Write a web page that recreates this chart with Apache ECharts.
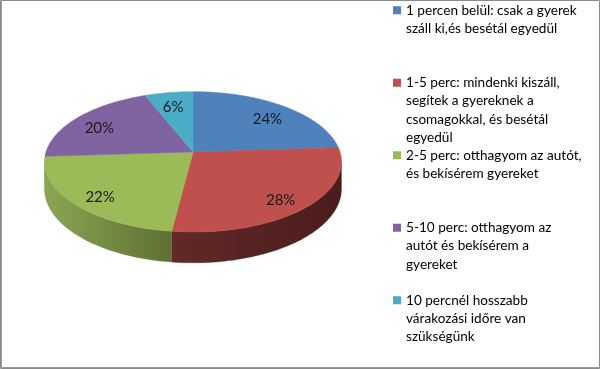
<!DOCTYPE html>
<html><head><meta charset="utf-8">
<script src="https://cdn.jsdelivr.net/npm/echarts@6/dist/echarts.min.js"></script>
<style>html,body{margin:0;padding:0;background:#fff}#c{width:600px;height:369px}</style>
</head><body><div id="c"></div>
<script>
// ---- data ----
const categories = [
  '1 percen belül: csak a gyerek\nszáll ki,és besétál egyedül',
  '1-5 perc: mindenki kiszáll,\nsegítek a gyereknek a\ncsomagokkal, és besétál\negyedül',
  '2-5 perc: otthagyom az autót,\nés bekísérem gyereket',
  '5-10 perc: otthagyom az\nautót és bekísérem a\ngyereket',
  '10 percnél hosszabb\nvárakozási időre van\nszükségünk'
];
const values = [24, 28, 22, 20, 6];
const colors = ['#4F81BD', '#C0504D', '#9BBB59', '#8064A2', '#4BACC6'];
const wallColors = [
  ['#2f4e72', '#243c58'],
  ['#622928', '#4a1d1c'],
  ['#8ba654', '#5d7033'],
  ['#4d3c62', '#3b2e4b'],
  ['#2d6878', '#22505c']
];

// ---- layout ----
const FONT = 'Lato';
const geo = { cx: 193, cy: 152, a: 147, b: 68.8, k: 0.1404, d: 26.5 };
const total = values.reduce((s, v) => s + v, 0);
const rad = d => d * Math.PI / 180;
function proj(deg, f) {
  const u = f * Math.sin(rad(deg)), v = f * Math.cos(rad(deg));
  const den = 1 + geo.k * v;
  return [geo.cx + geo.a * u / den, geo.cy - geo.b * v / den];
}
function depth(deg) { return geo.d / (1 + geo.k * Math.cos(rad(deg))); }
const silR = Math.acos(-geo.k) * 180 / Math.PI;
const silL = 360 - silR;
function arc(a0, a1) {
  const n = Math.max(2, Math.ceil(Math.abs(a1 - a0)) + 1);
  const pts = [];
  for (let j = 0; j < n; j++) pts.push(a0 + (a1 - a0) * j / (n - 1));
  return pts;
}

function renderSlice(i, val) {
  let before = 0;
  for (let j = 0; j < i; j++) before += values[j];
  const start = before / total * 360;
  const end = (before + val) / total * 360;
  const children = [];
  const lo = Math.max(start, silR), hi = Math.min(end, silL);
  if (lo < hi) {
    const angs = arc(lo, hi);
    const topPts = angs.map(a => proj(a, 1));
    const botPts = angs.slice().reverse().map(a => { const p = proj(a, 1); return [p[0], p[1] + depth(a)]; });
    children.push({
      type: 'polygon', z2: 0,
      shape: { points: topPts.concat(botPts) },
      style: {
        fill: { type: 'linear', x: 0, y: 0, x2: 1, y2: 0, global: false,
          colorStops: [{ offset: 0, color: wallColors[i][0] }, { offset: 1, color: wallColors[i][1] }] },
        stroke: wallColors[i][1], lineWidth: 0.3
      }
    });
  }
  const rim = arc(start, end).map(a => proj(a, 1));
  children.push({
    type: 'polygon', z2: 1,
    shape: { points: [[geo.cx, geo.cy]].concat(rim) },
    style: { fill: colors[i], stroke: colors[i], lineWidth: 0.5 }
  });
  const mid = (start + end) / 2;
  const lp = proj(mid, 0.8);
  children.push({
    type: 'text', z2: 2, x: lp[0], y: lp[1] + 4,
    style: { text: Math.round(val / total * 100) + '%', align: 'center', verticalAlign: 'middle',
      fill: '#1a1a1a', font: '15px ' + FONT }
  });
  return { type: 'group', children };
}

const lh = 18.3;
const legends = categories.map((name, i) => {
  const n = name.split('\n').length;
  const H = n * lh;
  const sq = lh / 2 - 4;
  return {
    data: [name], left: 393, top: 1 + i * 72.5, orient: 'vertical', padding: 0, itemGap: 0,
    itemWidth: 8, itemHeight: H, selectedMode: false,
    icon: 'path://M0,' + sq + 'h8v8h-8z M0,0h0.001 M0,' + H + 'h0.001',
    itemStyle: { borderWidth: 0 },
    textStyle: { fontFamily: FONT, fontSize: 13.6, lineHeight: lh, color: '#000' }
  };
});

const chart = echarts.init(document.getElementById('c'), null, { renderer: 'canvas' });
chart.setOption({
  animation: false,
  legend: legends,
  graphic: [
    { type: 'rect', silent: true, shape: { x: 0.5, y: 0.5, width: 599, height: 368 }, style: { fill: null, stroke: '#8a8a8a', lineWidth: 1 } },
    { type: 'line', silent: true, shape: { x1: 1.5, y1: 0, x2: 1.5, y2: 369 }, style: { stroke: '#9a9a9a', lineWidth: 1 } },
    { type: 'line', silent: true, shape: { x1: 0, y1: 367.5, x2: 600, y2: 367.5 }, style: { stroke: '#9a9a9a', lineWidth: 1 } }
  ],
  series: categories.map((name, i) => ({
    type: 'custom', name, coordinateSystem: 'none', silent: true,
    itemStyle: { color: colors[i] },
    data: [[values[i]]],
    renderItem: (params, api) => renderSlice(i, api.value(0))
  }))
});
</script></body></html>
